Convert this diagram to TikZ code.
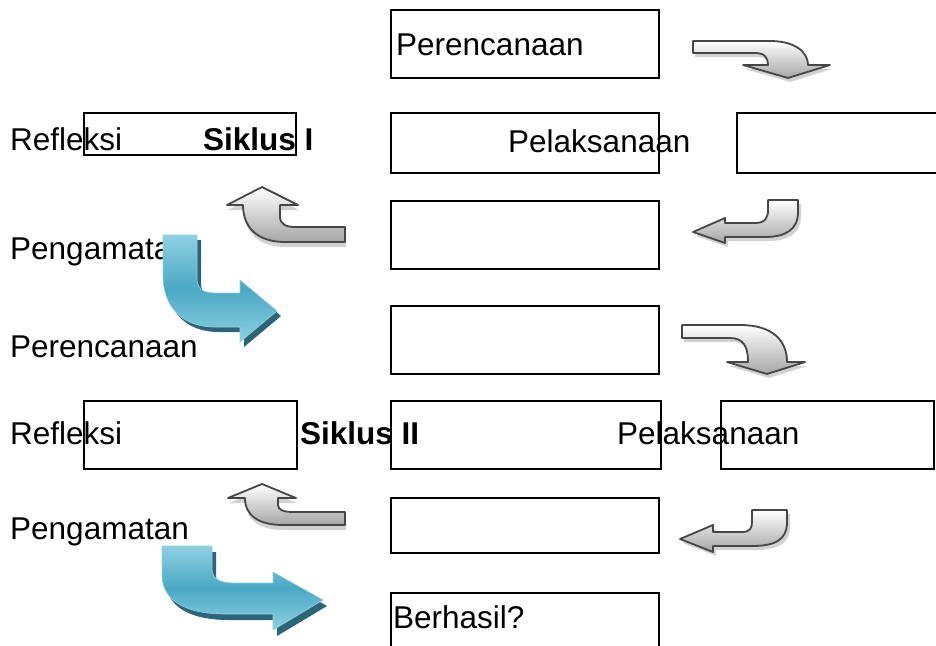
\documentclass[tikz,border=0pt]{standalone}
\usepackage{fontspec}
\setmainfont{Liberation Sans}
\definecolor{bluemd}{HTML}{4AA8C4}
\definecolor{bluelt}{HTML}{8FD0E2}
\definecolor{bluedk}{HTML}{2C6577}
\begin{document}
\begin{tikzpicture}[x=1pt,y=-1pt,
  boxst/.style={draw=black, line width=1.6pt, anchor=north west, inner sep=0pt},
  lbl/.style={anchor=base west, inner sep=0pt, font=\fontsize{31.5}{36}\selectfont},
  garrow/.style={draw=gray!55!black, line width=1.8pt, line join=round, top color=white, bottom color=gray!70},
  gshadow/.style={fill=gray!35, draw=none},
  barrow/.style={top color=bluelt, bottom color=bluelt, middle color=bluemd, draw=bluelt, line width=0.6pt, line join=round},
  bshadow/.style={fill=bluedk, draw=none}]
\useasboundingbox (0,0) rectangle (936,645);

% boxes
\node[boxst, minimum width=268pt, minimum height=68pt] (b1) at (390,9) {};
\node[boxst, minimum width=212pt, minimum height=42pt] (b2) at (83,112) {};
\node[boxst, minimum width=268pt, minimum height=60pt] (b3) at (390,112) {};
\node[boxst, minimum width=210pt, minimum height=60pt] (b4) at (736,112) {};
\node[boxst, minimum width=268pt, minimum height=68pt] (b5) at (390,200) {};
\node[boxst, minimum width=268pt, minimum height=68pt] (b6) at (390,305) {};
\node[boxst, minimum width=213pt, minimum height=68pt] (b7) at (83,400) {};
\node[boxst, minimum width=270pt, minimum height=68pt] (b8) at (390,400) {};
\node[boxst, minimum width=213pt, minimum height=68pt] (b9) at (720,400) {};
\node[boxst, minimum width=268pt, minimum height=55pt] (b10) at (390,497) {};
\node[boxst, minimum width=268pt, minimum height=70pt] (b11) at (390,592) {};

% texts
\node[lbl] (t1) at (396,55) {Perencanaan};
\node[lbl] (t2) at (10,150) {Refleksi};
\node[lbl] (t3) at (203,150) {\bfseries Siklus I};
\node[lbl] (t4) at (508,152) {Pelaksanaan};
\node[lbl] (t5) at (10,259) {Pengamatan};
\node[lbl] (t6) at (10,357) {Perencanaan};
\node[lbl] (t7) at (10,444) {Refleksi};
\node[lbl] (t8) at (300,444) {\bfseries Siklus II};
\node[lbl] (t9) at (617,444) {Pelaksanaan};
\node[lbl] (t10) at (10,539) {Pengamatan};
\node[lbl] (t11) at (393,628) {Berhasil?};

% gray arrow 1 (right then down)
\begin{scope}[shift={(2,4)}]
\path[gshadow] (693,41) -- (770,41) .. controls (795,41) and (808,52) .. (808,65) -- (830,65) -- (788,78) -- (743,65) -- (768,65) .. controls (768,58) and (765,53) .. (755,53) -- (693,53) -- cycle;
\end{scope}
\path[garrow] (693,41) -- (770,41) .. controls (795,41) and (808,52) .. (808,65) -- (830,65) -- (788,78) -- (743,65) -- (768,65) .. controls (768,58) and (765,53) .. (755,53) -- (693,53) -- cycle;

% gray arrow 4 (right then down)
\begin{scope}[shift={(2,4)}]
\path[gshadow] (682,325) -- (740,325) .. controls (772,325) and (787,340) .. (787,362) -- (805,362) -- (767,374) -- (727,362) -- (748,362) .. controls (748,346) and (743,338) .. (730,338) -- (682,338) -- cycle;
\end{scope}
\path[garrow] (682,325) -- (740,325) .. controls (772,325) and (787,340) .. (787,362) -- (805,362) -- (767,374) -- (727,362) -- (748,362) .. controls (748,346) and (743,338) .. (730,338) -- (682,338) -- cycle;

% gray arrow 2 (up-left)
\begin{scope}[shift={(1,5)}]
\path[gshadow] (262,187) -- (298,205) -- (280,205) -- (280,217) .. controls (280,224) and (286,227) .. (295,227) -- (345,227) -- (345,242) -- (285,242) .. controls (258,242) and (243,228) .. (243,205) -- (227,205) -- cycle;
\end{scope}
\path[garrow] (262,187) -- (298,205) -- (280,205) -- (280,217) .. controls (280,224) and (286,227) .. (295,227) -- (345,227) -- (345,242) -- (285,242) .. controls (258,242) and (243,228) .. (243,205) -- (227,205) -- cycle;

% gray arrow 5 (up-left)
\begin{scope}[shift={(1,5)}]
\path[gshadow] (262,484) -- (296,498) -- (278,498) -- (278,505) .. controls (278,510) and (284,512) .. (293,512) -- (345,512) -- (345,525) -- (283,525) .. controls (258,525) and (245,515) .. (245,498) -- (228,498) -- cycle;
\end{scope}
\path[garrow] (262,484) -- (296,498) -- (278,498) -- (278,505) .. controls (278,510) and (284,512) .. (293,512) -- (345,512) -- (345,525) -- (283,525) .. controls (258,525) and (245,515) .. (245,498) -- (228,498) -- cycle;

% gray arrow 3 (down-left)
\begin{scope}[shift={(3,4)}]
\path[gshadow] (768,200) -- (798,200) -- (798,212) .. controls (798,230) and (785,237) .. (765,237) -- (725,237) -- (725,243) -- (693,232) -- (725,218) -- (725,223) -- (755,223) .. controls (765,223) and (768,218) .. (768,210) -- cycle;
\end{scope}
\path[garrow] (768,200) -- (798,200) -- (798,212) .. controls (798,230) and (785,237) .. (765,237) -- (725,237) -- (725,243) -- (693,232) -- (725,218) -- (725,223) -- (755,223) .. controls (765,223) and (768,218) .. (768,210) -- cycle;

% gray arrow 6 (down-left)
\begin{scope}[shift={(3,4)}]
\path[gshadow] (752,510) -- (787,510) -- (787,522) .. controls (787,540) and (775,546) .. (752,546) -- (713,546) -- (713,552) -- (680,539) -- (713,525) -- (713,532) -- (742,532) .. controls (750,532) and (752,528) .. (752,522) -- cycle;
\end{scope}
\path[garrow] (752,510) -- (787,510) -- (787,522) .. controls (787,540) and (775,546) .. (752,546) -- (713,546) -- (713,552) -- (680,539) -- (713,525) -- (713,532) -- (742,532) .. controls (750,532) and (752,528) .. (752,522) -- cycle;

% blue arrow 1
\begin{scope}[shift={(4,5)}]
\path[bshadow] (163,235) -- (197,235) -- (197,278) .. controls (197,288) and (202,293) .. (215,293) -- (240,293) -- (240,280) -- (277,311) -- (240,342) -- (240,327) -- (215,327) .. controls (180,327) and (163,305) .. (163,275) -- cycle;
\end{scope}
\path[barrow] (163,235) -- (197,235) -- (197,278) .. controls (197,288) and (202,293) .. (215,293) -- (240,293) -- (240,280) -- (277,311) -- (240,342) -- (240,327) -- (215,327) .. controls (180,327) and (163,305) .. (163,275) -- cycle;

% blue arrow 2
\begin{scope}[shift={(4,6)}]
\path[bshadow] (162,546) -- (212,546) -- (212,568) .. controls (212,578) and (218,583) .. (235,583) -- (273,583) -- (273,572) -- (323,600) -- (273,630) -- (273,614) -- (225,614) .. controls (185,614) and (162,600) .. (162,575) -- cycle;
\end{scope}
\path[barrow] (162,546) -- (212,546) -- (212,568) .. controls (212,578) and (218,583) .. (235,583) -- (273,583) -- (273,572) -- (323,600) -- (273,630) -- (273,614) -- (225,614) .. controls (185,614) and (162,600) .. (162,575) -- cycle;
\end{tikzpicture}
\end{document}
